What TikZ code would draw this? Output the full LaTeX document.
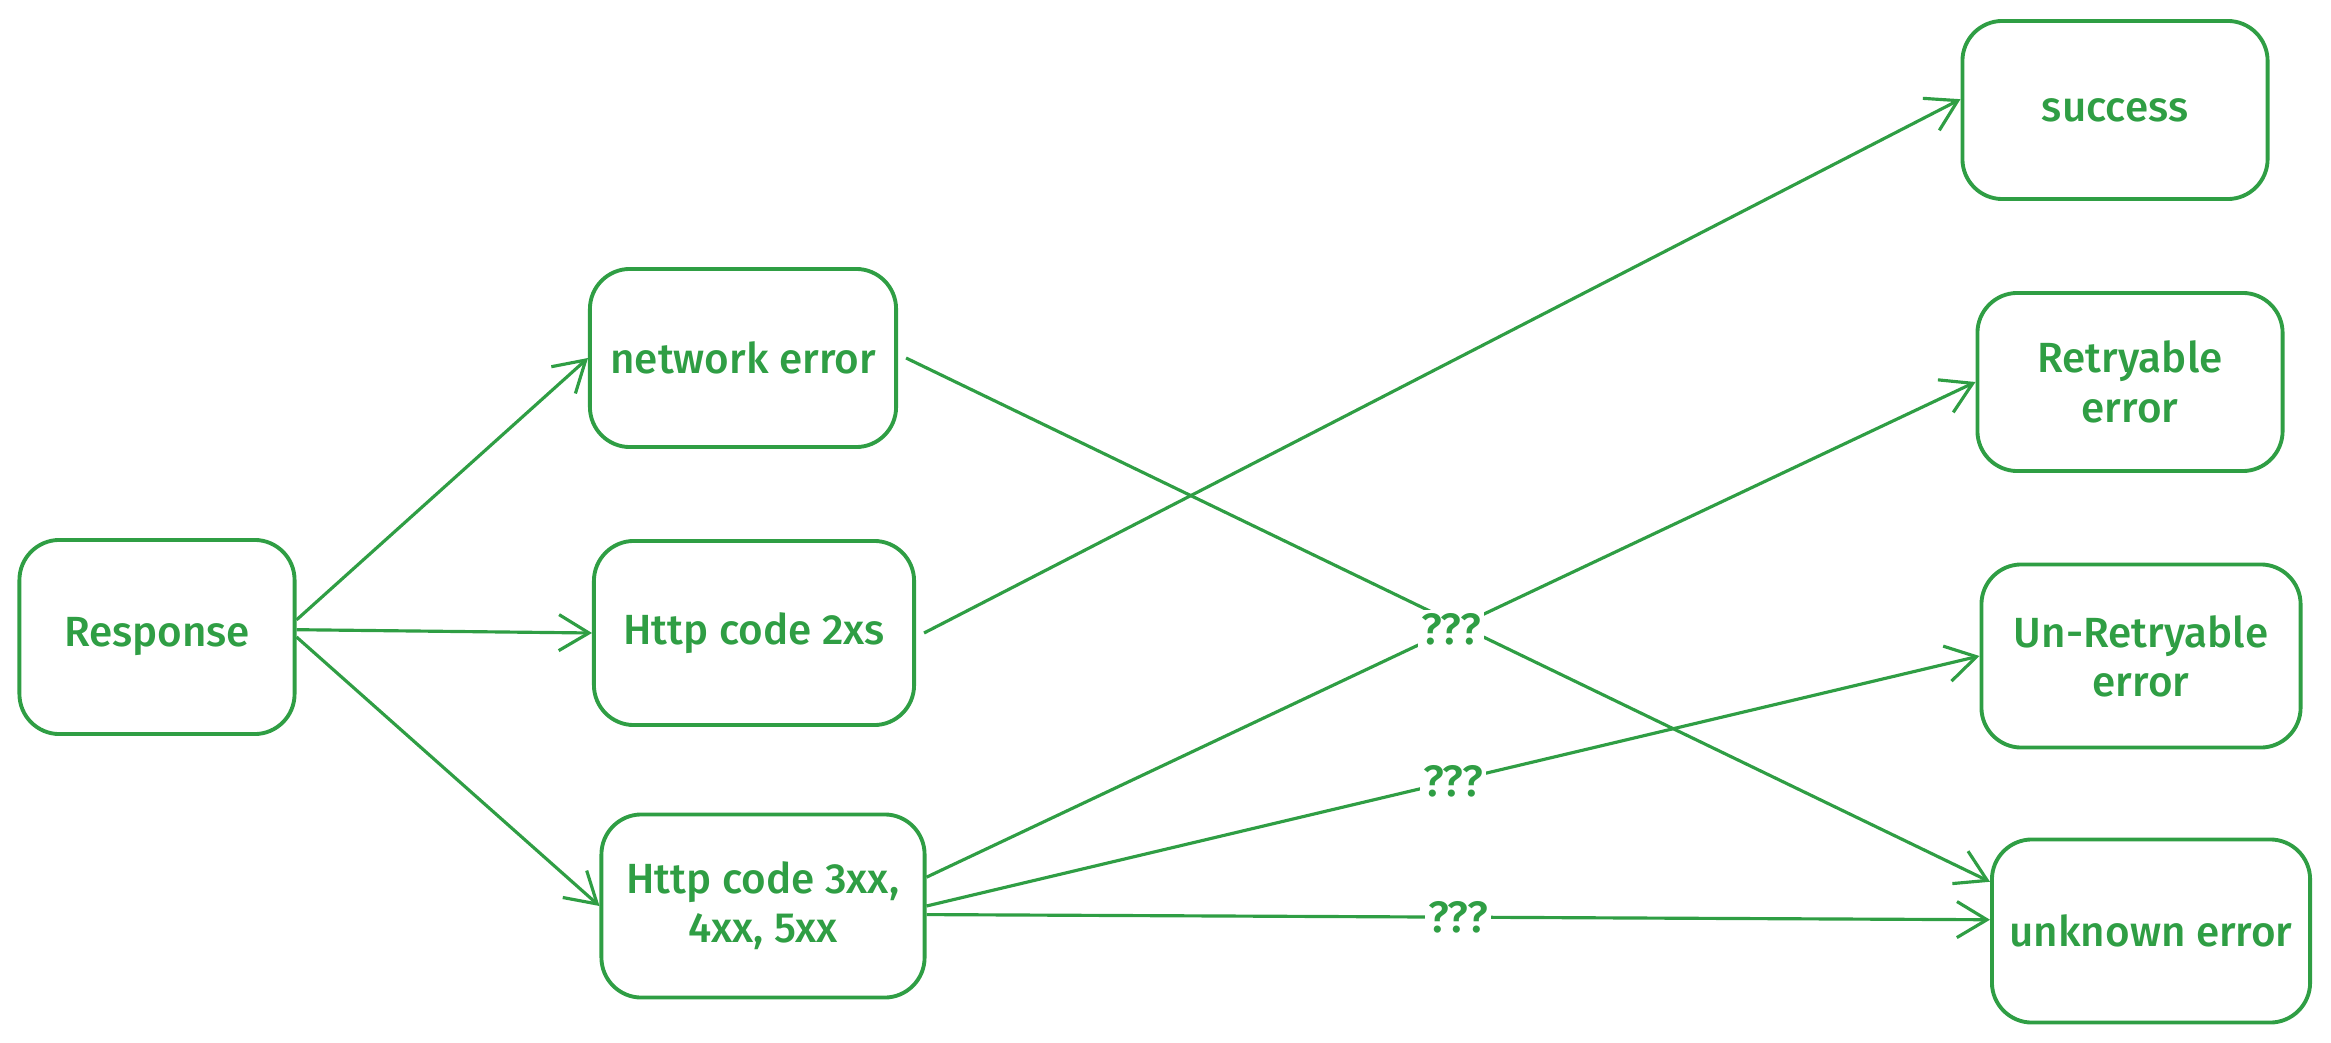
\documentclass[tikz,border=0pt]{standalone}
\usepackage{fontspec}
\setmainfont{Fira Sans}[BoldFont={Fira Sans Medium}]
\usetikzlibrary{arrows.meta,positioning}
\definecolor{sketchgreen}{HTML}{2F9E44}

\begin{document}
\begin{tikzpicture}[x=0.01cm,y=-0.01cm,
    box/.style={draw=sketchgreen,line width=1.1pt,rounded corners=0.4cm,text=sketchgreen,
      font=\fontsize{12}{14}\selectfont\bfseries,align=center,inner sep=0pt},
    link/.style={draw=sketchgreen,line width=0.9pt,-{Straight Barb[length=3mm,width=3.6mm]}},
    guess/.style={fill=white,text=sketchgreen,font=\fontsize{12.5}{14}\selectfont\bfseries,inner sep=1pt}]
    \useasboundingbox (0,0) rectangle (2331,1043);
    % Draw the response box
    \node[box,minimum width=2.75cm,minimum height=1.94cm] (response) at (157,637) {Response};
    % Draw the middle column
    \node[box,minimum width=3.06cm,minimum height=1.78cm] (network) at (743,358) {network error};
    \node[box,minimum width=3.2cm,minimum height=1.84cm] (code2xs) at (754,633) {Http code 2xs};
    \node[box,minimum width=3.23cm,minimum height=1.83cm] (code3xx) at (763,906) {Http code 3xx,\\4xx, 5xx};
    % Draw the outcome column
    \node[box,minimum width=3.05cm,minimum height=1.78cm] (success) at (2115,110) {success};
    \node[box,minimum width=3.05cm,minimum height=1.78cm] (retry) at (2130,382) {Retryable\\error};
    \node[box,minimum width=3.19cm,minimum height=1.83cm] (noretry) at (2141,656) {Un-Retryable\\error};
    \node[box,minimum width=3.18cm,minimum height=1.83cm] (unknown) at (2151,931) {unknown error};
    % Draw arrows from the response
    \draw[link] (response.7) -- (network.west);
    \draw[link] (response.3) -- (code2xs.west);
    \draw[link] (response.east) -- (code3xx.west);
    % Draw arrows to the outcomes
    \draw[link] ([xshift=0.8mm]network.east) -- (unknown.163);
    \draw[link] ([xshift=0.8mm]code2xs.east) -- (success.176);
    \draw[link] (code3xx.10) -- node[guess] {???} (retry.west);
    \draw[link] (code3xx.east) -- node[guess] {???} (noretry.west);
    \draw[link] (code3xx.-3) -- node[guess] {???} (unknown.176);
\end{tikzpicture}
\end{document}
